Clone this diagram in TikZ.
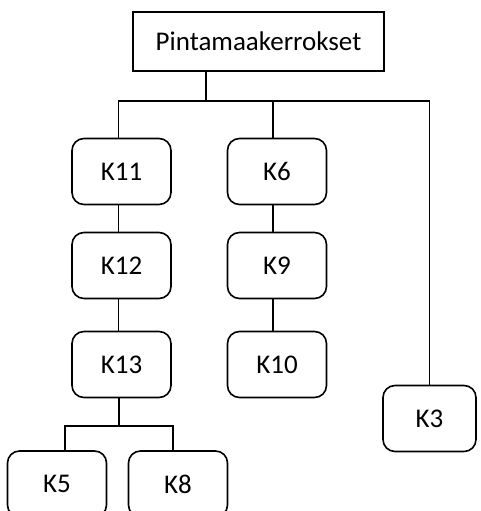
\documentclass[tikz,border=0pt]{standalone}
\usepackage{fontspec}
\setmainfont{Carlito}
\usetikzlibrary{positioning}
\tikzset{
  root box/.style={
    draw,
    line width=1.6pt,
    minimum width=251pt,
    minimum height=59pt,
    inner sep=0pt,
    font=\fontsize{27}{31}\selectfont
  },
  layer box/.style={
    draw,
    line width=1.6pt,
    rounded corners=12pt,
    minimum width=99pt,
    minimum height=66pt,
    inner sep=0pt,
    font=\fontsize{27}{31}\selectfont
  },
  link/.style={
    line width=1.6pt
  }
}

\begin{document}
\begin{tikzpicture}[x=1pt, y=-1pt]
    % 1. frame of the picture
    \clip (0,0) rectangle (480,511);

    % 2. boxes
    \node[root box] (root) at (258.5,41.5) {Pintamaakerrokset};
    \node[layer box] (k11) at (121.5,171.5) {K11};
    \node[layer box] (k12) at (121.5,265.5) {K12};
    \node[layer box] (k13) at (121.5,364.5) {K13};
    \node[layer box] (k6) at (277,171.5) {K6};
    \node[layer box] (k9) at (277,265.5) {K9};
    \node[layer box] (k10) at (277,364.5) {K10};
    \node[layer box, minimum width=93pt] (k3) at (429.5,418.5) {K3};
    \node[layer box] (k5) at (57,484) {K5};
    \node[layer box] (k8) at (178,484) {K8};

    % 3. branch points
    \coordinate (bus1) at (206,101);
    \coordinate (bus2) at (119,426);

    % 4. connectors
    \draw[link] (root.south -| bus1) -- (bus1);
    \draw[link] ([xshift=-3pt]k11.north) |- (bus1) -| (k3.north);
    \draw[link] ([xshift=-4pt]k6.north) -- ([xshift=-4pt]k6.north |- bus1);
    \draw[link] ([xshift=-3pt]k11.south) -- ([xshift=-3pt]k12.north);
    \draw[link] ([xshift=-3pt]k12.south) -- ([xshift=-3pt]k13.north);
    \draw[link] ([xshift=-4pt]k6.south) -- ([xshift=-4pt]k9.north);
    \draw[link] ([xshift=-4pt]k9.south) -- ([xshift=-4pt]k10.north);
    \draw[link] ([xshift=-2.5pt]k13.south) -- (bus2);
    \draw[link] ([xshift=8pt]k5.north) |- (bus2) -| ([xshift=-5pt]k8.north);
\end{tikzpicture}
\end{document}
